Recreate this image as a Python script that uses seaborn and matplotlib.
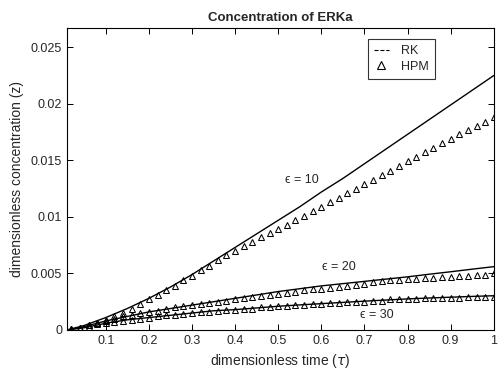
import numpy as np
import pandas as pd
import matplotlib
matplotlib.use("Agg")
import matplotlib.pyplot as plt
from matplotlib.lines import Line2D
from matplotlib.ticker import FuncFormatter
import seaborn as sns

sns.set_style("ticks")
plt.rcParams["font.family"] = ["Liberation Sans", "DejaVu Sans"]
plt.rcParams["mathtext.fontset"] = "dejavusans"

# ---------------------------------------------------------
# data
# ---------------------------------------------------------
tau_rk = [0.01, 0.05, 0.10, 0.15, 0.20, 0.25, 0.30, 0.35, 0.40, 0.45, 0.50,
          0.55, 0.60, 0.65, 0.70, 0.75, 0.80, 0.85, 0.90, 0.95, 1.00]
rk_eps10 = [0.0, 0.0004, 0.0011, 0.0019, 0.0028, 0.0038, 0.0049, 0.0061, 0.0073, 0.0085, 0.0097,
            0.0109, 0.0122, 0.0134, 0.0147, 0.0160, 0.0173, 0.0186, 0.0199, 0.0212, 0.0225]
rk_eps20 = [0.0, 0.0003, 0.0008, 0.0012, 0.0016, 0.0019, 0.0022, 0.0025, 0.0028, 0.0031, 0.0034,
            0.00365, 0.0039, 0.0041, 0.0043, 0.0045, 0.0047, 0.00493, 0.00515, 0.00538, 0.0056]
rk_eps30 = [0.0, 0.0002, 0.0006, 0.0009, 0.0011, 0.0013, 0.0015, 0.0017, 0.0018, 0.00195, 0.0021,
            0.00222, 0.00233, 0.00244, 0.00255, 0.00265, 0.00275, 0.00283, 0.0029, 0.00297, 0.00303]

tau_hpm = [0.02, 0.04, 0.06, 0.08, 0.10, 0.12, 0.14, 0.16, 0.18, 0.20,
           0.22, 0.24, 0.26, 0.28, 0.30, 0.32, 0.34, 0.36, 0.38, 0.40,
           0.42, 0.44, 0.46, 0.48, 0.50, 0.52, 0.54, 0.56, 0.58, 0.60,
           0.62, 0.64, 0.66, 0.68, 0.70, 0.72, 0.74, 0.76, 0.78, 0.80,
           0.82, 0.84, 0.86, 0.88, 0.90, 0.92, 0.94, 0.96, 0.98, 1.00]
hpm_eps10 = [0.0001, 0.0002, 0.0004, 0.0006, 0.0009, 0.0012, 0.0015, 0.0019, 0.0023, 0.0027,
             0.0031, 0.0035, 0.0039, 0.0044, 0.0048, 0.0053, 0.0057, 0.0062, 0.0066, 0.0070,
             0.0074, 0.0078, 0.0082, 0.0086, 0.0089, 0.0093, 0.0097, 0.0101, 0.0105, 0.0109,
             0.0113, 0.0117, 0.0121, 0.0125, 0.0129, 0.0133, 0.0137, 0.0141, 0.0145, 0.0149,
             0.0153, 0.0157, 0.0161, 0.0165, 0.0169, 0.0173, 0.0177, 0.0180, 0.0184, 0.0188]
hpm_eps20 = [0.0001, 0.0002, 0.0004, 0.0006, 0.0008, 0.0010, 0.0012, 0.0013, 0.0015, 0.0016,
             0.0017, 0.0019, 0.0020, 0.0021, 0.0022, 0.0023, 0.0024, 0.0025, 0.0026, 0.0027,
             0.0028, 0.0029, 0.0030, 0.0031, 0.0032, 0.0033, 0.0034, 0.0035, 0.0036, 0.0036,
             0.0037, 0.0038, 0.0039, 0.0040, 0.0041, 0.0042, 0.0043, 0.0044, 0.0044, 0.0045,
             0.0045, 0.0046, 0.0046, 0.0047, 0.0047, 0.0048, 0.0048, 0.0049, 0.0049, 0.0050]
hpm_eps30 = [0.0001, 0.0002, 0.0003, 0.0005, 0.0006, 0.0007, 0.0008, 0.0009, 0.0010, 0.0011,
             0.0012, 0.0013, 0.0013, 0.0014, 0.0015, 0.0016, 0.0016, 0.0017, 0.0018, 0.0018,
             0.0019, 0.0019, 0.0020, 0.0020, 0.0021, 0.0021, 0.0022, 0.0022, 0.0023, 0.0023,
             0.0024, 0.0024, 0.0025, 0.0025, 0.0025, 0.0026, 0.0026, 0.0027, 0.0027, 0.0027,
             0.0027, 0.0028, 0.0028, 0.0028, 0.0028, 0.0028, 0.0029, 0.0029, 0.0029, 0.0029]

eps_labels = ["\u03f5 = 10", "\u03f5 = 20", "\u03f5 = 30"]
label_pos = [(0.555, 0.0133), (0.64, 0.0056), (0.728, 0.0013)]

x_ticks = [0.1, 0.2, 0.3, 0.4, 0.5, 0.6, 0.7, 0.8, 0.9, 1.0]
y_ticks = [0, 0.005, 0.01, 0.015, 0.02, 0.025]

# ---------------------------------------------------------
# plot
# ---------------------------------------------------------
fig = plt.figure(figsize=(4.98, 3.69), dpi=100)
ax = fig.add_axes([0.1345, 0.1057, 0.857, 0.8183])

for rk in (rk_eps10, rk_eps20, rk_eps30):
    sns.lineplot(x=tau_rk, y=rk, ax=ax, color="black", linewidth=1.0, sort=False)

for hpm in (hpm_eps10, hpm_eps20, hpm_eps30):
    sns.lineplot(x=tau_hpm, y=hpm, ax=ax, color="black", linestyle="", marker="^",
                 markersize=3.8, markerfacecolor="none", markeredgecolor="black",
                 markeredgewidth=0.75, sort=False)

for lab, (tx, ty) in zip(eps_labels, label_pos):
    ax.text(tx, ty, lab, ha="center", va="center", fontsize=9,
            family=["Liberation Sans", "DejaVu Sans"])

ax.set_xlim(0.01, 1.0)
ax.set_ylim(0, 0.0267)
ax.set_xticks(x_ticks)
ax.set_yticks(y_ticks)
ax.xaxis.set_major_formatter(FuncFormatter(lambda v, p: f"{v:g}"))
ax.yaxis.set_major_formatter(FuncFormatter(lambda v, p: f"{v:g}"))
ax.tick_params(direction="in", top=True, right=True, length=4, width=0.7,
               labelsize=9, colors="black", labelcolor="#262626")
for sp in ax.spines.values():
    sp.set_visible(True)
    sp.set_linewidth(0.8)
    sp.set_color("black")

ax.set_title("Concentration of ERKa", fontsize=9.5, fontweight="bold", pad=5)
ax.set_xlabel(r"dimensionless time ($\tau$)", fontsize=10, color="#262626", labelpad=4)
ax.set_ylabel("dimensionless concentration (z)", fontsize=10, color="#262626", labelpad=5)

handles = [Line2D([], [], color="black", linestyle="--", linewidth=0.8),
           Line2D([], [], color="black", linestyle="", marker="^", markersize=6,
                  markerfacecolor="none", markeredgewidth=0.8)]
leg = ax.legend(handles, ["RK", "HPM"], loc="upper left", bbox_to_anchor=(0.69, 0.985),
                fontsize=9, frameon=True, fancybox=False, handlelength=1.2,
                handletextpad=1.0, borderpad=0.5, labelspacing=0.3)
leg.get_frame().set_edgecolor("black")
leg.get_frame().set_linewidth(0.8)

fig.savefig("out.png", dpi=100)
